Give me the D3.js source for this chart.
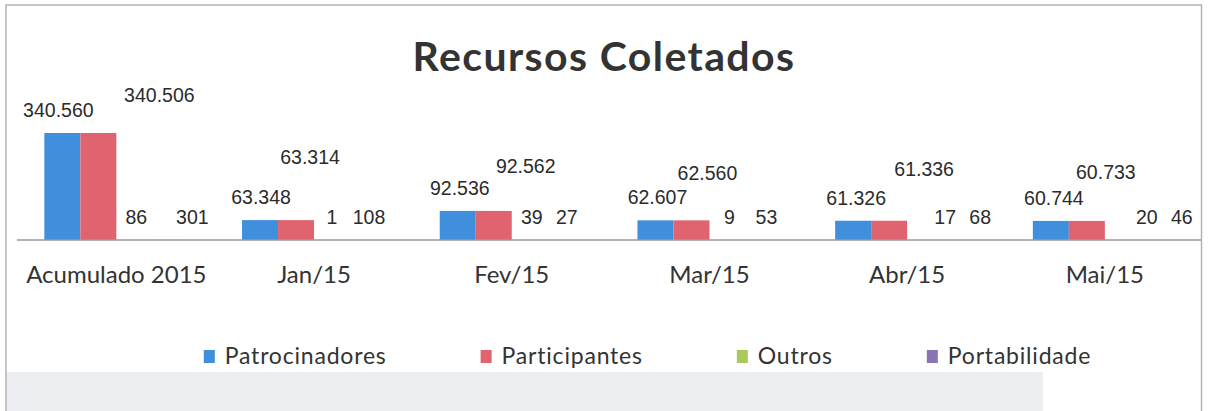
<!DOCTYPE html>
<html lang="pt">
<head>
<meta charset="UTF-8">
<title>Recursos Coletados</title>
<script src="https://d3js.org/d3.v7.min.js"></script>
<style>
  body { margin: 0; background: #fff; }
  svg { display: block; }
</style>
</head>
<body>
<div id="chart"></div>
<script>
// data
const categories = ["Acumulado 2015", "Jan/15", "Fev/15", "Mar/15", "Abr/15", "Mai/15"];
const seriesNames = ["Patrocinadores", "Participantes", "Outros", "Portabilidade"];
const patrocinadores = [340560, 63348, 92536, 62607, 61326, 60744];
const participantes = [340506, 63314, 92562, 62560, 61336, 60733];
const outros = [86, 1, 39, 9, 17, 20];
const portabilidade = [301, 108, 27, 53, 68, 46];

// labels in the original were dragged by hand: [dx, dy] per series / category
const labelShift = [
  [[-4, 0], [1, 0], [2, 0], [2, 0], [3, 0], [3, 0]],
  [[61, -15], [14, -40], [32, -22], [16, -24], [35, -29], [19, -26]],
  [[2, 0], [0, 0], [2, 0], [2, 0], [20, 0], [24, 0]],
  [[22, 0], [1, 0], [1, 0], [3, 0], [19, 0], [23, 0]]
];

const colors = ["#3f8fdc", "#e06470", "#a9c85e", "#8a74b6"];
const W = 1209, H = 411;
const baseY = 240;

const svg = d3.select("#chart").append("svg")
  .attr("width", W)
  .attr("height", H);

// scanned page background bits
svg.append("rect").attr("x", 6).attr("y", 372).attr("width", 1037).attr("height", 40)
  .attr("fill", "#eceef1");
svg.append("rect").attr("x", 6).attr("y", 5).attr("width", 1195.5).attr("height", 420)
  .attr("fill", "none").attr("stroke", "#b4b4b8").attr("stroke-width", 1.5);

const rows = categories.map((c, i) => ({
  cat: c,
  vals: [patrocinadores[i], participantes[i], outros[i], portabilidade[i]]
}));

const x0 = d3.scaleBand().domain(categories).range([17.5, 1203.7])
  .paddingInner(0.2716).paddingOuter(0.1358);
const x1 = d3.scaleBand().domain(seriesNames).range([0, x0.bandwidth()]);
const y = d3.scaleLinear().domain([0, 400000]).range([baseY, baseY - 400000 * 107 / 340560]);

const br = d3.formatLocale({ decimal: ",", thousands: ".", grouping: [3], currency: ["R$", ""] });
const fmt = br.format(",d");

// bars
const groups = svg.selectAll("g.cat").data(rows).enter().append("g")
  .attr("class", "cat")
  .attr("transform", d => `translate(${x0(d.cat)},0)`);

groups.selectAll("rect").data(d => d.vals.map((v, s) => ({ v, s })))
  .enter().append("rect")
  .attr("x", d => x1(seriesNames[d.s]))
  .attr("y", d => y(d.v))
  .attr("width", x1.bandwidth())
  .attr("height", d => baseY - y(d.v))
  .attr("fill", d => colors[d.s]);

// axis line
svg.append("line").attr("x1", 17).attr("x2", 1201).attr("y1", baseY).attr("y2", baseY)
  .attr("stroke", "#9a9a9e").attr("stroke-width", 1.5);

// value labels
groups.each(function (d, ci) {
  d3.select(this).selectAll("text.val").data(d.vals.map((v, s) => ({ v, s })))
    .enter().append("text")
    .attr("class", "val")
    .attr("x", e => x1(seriesNames[e.s]) + x1.bandwidth() / 2 + labelShift[e.s][ci][0])
    .attr("y", e => y(e.v) - 16 + labelShift[e.s][ci][1])
    .attr("text-anchor", "middle")
    .attr("font-family", "Liberation Sans, Arial, sans-serif")
    .attr("font-size", 19.5)
    .attr("fill", "#2b2b2b")
    .text(e => fmt(e.v));
});

// category axis labels
svg.append("g").selectAll("text").data(categories).enter().append("text")
  .attr("x", d => x0(d) + x0.bandwidth() / 2)
  .attr("y", 283)
  .attr("text-anchor", "middle")
  .attr("font-family", "Lato, sans-serif")
  .attr("font-size", 24)
  .attr("fill", "#333")
  .text(d => d);

// title
svg.append("text")
  .attr("x", 604).attr("y", 71)
  .attr("text-anchor", "middle")
  .attr("font-family", "Lato, sans-serif")
  .attr("font-weight", "bold")
  .attr("font-size", 41)
  .attr("letter-spacing", 1.4)
  .attr("fill", "#333")
  .text("Recursos Coletados");

// legend
const leg = svg.append("g");
let lx = 0;
seriesNames.forEach((name, i) => {
  const item = leg.append("g").attr("transform", `translate(${lx},0)`);
  item.append("rect").attr("x", 0).attr("y", 350).attr("width", 11).attr("height", 13)
    .attr("fill", colors[i]);
  const t = item.append("text").attr("x", 21).attr("y", 364)
    .attr("font-family", "Lato, sans-serif")
    .attr("font-size", 23)
    .attr("letter-spacing", 0.8)
    .attr("fill", "#333")
    .text(name);
  lx += 21 + t.node().getComputedTextLength() + 94;
});
const legW = lx - 94;
leg.attr("transform", `translate(${647.5 - legW / 2},0)`);
</script>
</body>
</html>
